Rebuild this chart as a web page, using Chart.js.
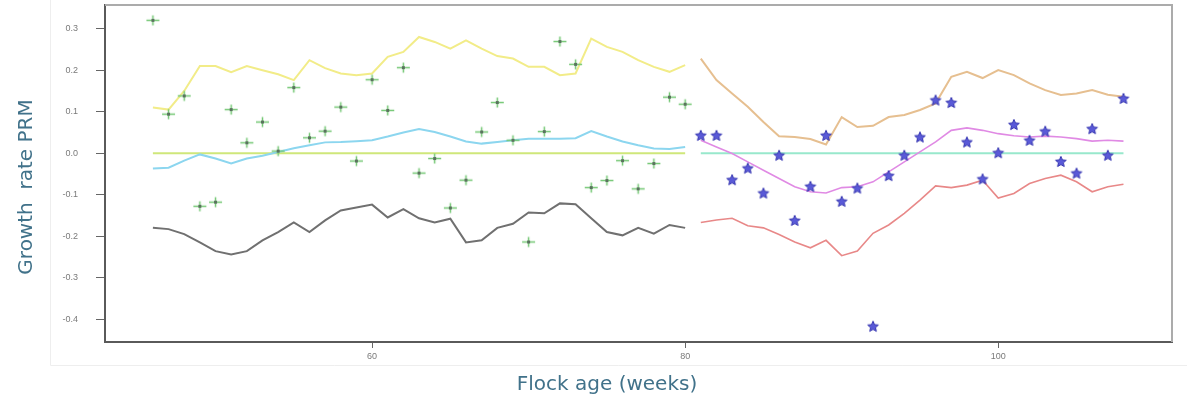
<!DOCTYPE html>
<html>
<head>
<meta charset="utf-8">
<script src="https://cdn.jsdelivr.net/npm/chart.js@4.4.1/dist/chart.umd.min.js"></script>
<style>
  html, body { margin: 0; padding: 0; background: #ffffff; }
  canvas { display: block; }
</style>
</head>
<body>
<canvas id="chart" width="1187" height="404"></canvas>
<script>
// ---- Period A: weeks 46-80 ----
const weeksA = [46,47,48,49,50,51,52,53,54,55,56,57,58,59,60,61,62,63,64,65,66,67,68,69,70,71,72,73,74,75,76,77,78,79,80];
const growthA = [0.32,0.094,0.138,-0.128,-0.118,0.105,0.025,0.075,0.005,0.158,0.037,0.053,0.111,-0.019,0.177,0.103,0.206,-0.048,-0.013,-0.132,-0.065,0.051,0.122,0.031,-0.214,0.052,0.269,0.214,-0.083,-0.066,-0.018,-0.086,-0.025,0.135,0.118];
const upperA = [0.11,0.105,0.15,0.21,0.21,0.195,0.21,0.2,0.19,0.176,0.224,0.205,0.192,0.188,0.192,0.232,0.244,0.28,0.268,0.252,0.272,0.252,0.234,0.228,0.208,0.208,0.188,0.192,0.276,0.256,0.244,0.224,0.208,0.196,0.212];
const meanA = [-0.037,-0.035,-0.018,-0.003,-0.013,-0.025,-0.013,-0.006,0.003,0.012,0.019,0.026,0.027,0.029,0.031,0.04,0.05,0.058,0.051,0.04,0.028,0.023,0.027,0.031,0.035,0.035,0.035,0.036,0.053,0.04,0.028,0.019,0.011,0.01,0.015];
const lowerA = [-0.18,-0.183,-0.195,-0.215,-0.236,-0.244,-0.236,-0.21,-0.19,-0.167,-0.19,-0.162,-0.138,-0.131,-0.124,-0.155,-0.135,-0.157,-0.167,-0.158,-0.215,-0.21,-0.18,-0.17,-0.143,-0.145,-0.121,-0.123,-0.157,-0.19,-0.198,-0.18,-0.194,-0.173,-0.18];
const refWeeksA = [46, 80];

// ---- Period B: weeks 81-108 ----
const weeksB = [81,82,83,84,85,86,87,88,89,90,91,92,93,94,95,96,97,98,99,100,101,102,103,104,105,106,107,108];
const growthB = [0.043,0.043,-0.064,-0.036,-0.096,-0.005,-0.162,-0.08,0.043,-0.116,-0.084,-0.417,-0.054,-0.005,0.039,0.128,0.122,0.027,-0.062,0.001,0.069,0.031,0.053,-0.02,-0.048,0.059,-0.005,0.132];
const upperB = [0.228,0.176,0.144,0.112,0.075,0.041,0.039,0.034,0.021,0.087,0.063,0.066,0.087,0.092,0.104,0.12,0.184,0.196,0.181,0.2,0.188,0.168,0.152,0.14,0.144,0.152,0.141,0.136];
const meanB = [0.031,0.015,-0.001,-0.021,-0.041,-0.061,-0.081,-0.093,-0.096,-0.083,-0.081,-0.069,-0.045,-0.021,0.003,0.027,0.055,0.061,0.055,0.047,0.042,0.039,0.041,0.039,0.035,0.029,0.031,0.029];
const lowerB = [-0.167,-0.161,-0.157,-0.175,-0.18,-0.196,-0.214,-0.228,-0.21,-0.247,-0.236,-0.193,-0.173,-0.145,-0.113,-0.079,-0.083,-0.077,-0.065,-0.108,-0.097,-0.073,-0.061,-0.053,-0.069,-0.093,-0.081,-0.075];
const refWeeksB = [81, 108];

const refLevel = 0;

// ---- Axes ----
const xTicks = [60, 80, 100];
const yTicks = [-0.4, -0.3, -0.2, -0.1, 0.0, 0.1, 0.2, 0.3];
const xTitle = 'Flock age (weeks)';
const yTitle = 'Growth  rate PRM';

function pts(xs, ys) { return xs.map((x, i) => ({ x: x, y: ys[i] })); }
function level(xs, v) { return xs.map(x => ({ x: x, y: v })); }

// Marker glyphs
function makePlus() {
  const c = document.createElement('canvas');
  c.width = 15; c.height = 13;
  const g = c.getContext('2d');
  g.strokeStyle = '#74c874';
  g.lineWidth = 1.5;
  g.beginPath();
  g.moveTo(1, 6.5); g.lineTo(14, 6.5);
  g.moveTo(7.5, 1.5); g.lineTo(7.5, 11.5);
  g.stroke();
  g.fillStyle = '#5a725e';
  g.fillRect(6, 5, 3, 3);
  return c;
}
function makeStar() {
  const c = document.createElement('canvas');
  c.width = 14; c.height = 13;
  const g = c.getContext('2d');
  g.beginPath();
  for (let i = 0; i < 10; i++) {
    const r = i % 2 ? 2.6 : 5.6;
    const a = -Math.PI / 2 + i * Math.PI / 5;
    g.lineTo(7 + r * Math.cos(a), 7 + r * Math.sin(a));
  }
  g.closePath();
  g.fillStyle = '#5a5ad8';
  g.fill();
  g.strokeStyle = '#3434b0';
  g.lineWidth = 1;
  g.stroke();
  return c;
}
const plusGlyph = makePlus();
const starGlyph = makeStar();

function lineSet(data, color, width, order) {
  return {
    data: data, showLine: true, borderColor: color, backgroundColor: color,
    borderWidth: width, pointRadius: 0, pointHoverRadius: 0, fill: false,
    tension: 0, order: order
  };
}

// Frame, outer panel and axis titles
const decor = {
  id: 'decor',
  beforeDraw(chart) {
    const ctx = chart.ctx;
    ctx.save();
    ctx.fillStyle = '#ffffff';
    ctx.fillRect(0, 0, chart.width, chart.height);
    ctx.strokeStyle = '#eeeeee';
    ctx.lineWidth = 1;
    ctx.beginPath();
    ctx.moveTo(50.5, 0); ctx.lineTo(50.5, 365.5); ctx.lineTo(1187, 365.5);
    ctx.stroke();
    ctx.restore();
  },
  afterDraw(chart) {
    const ctx = chart.ctx;
    const a = chart.chartArea;
    ctx.save();
    ctx.strokeStyle = '#ababab';
    ctx.lineWidth = 2;
    ctx.beginPath();
    ctx.moveTo(a.left, a.top); ctx.lineTo(a.right, a.top); ctx.lineTo(a.right, a.bottom);
    ctx.stroke();

    ctx.fillStyle = '#41728a';
    ctx.font = '20px "DejaVu Sans", Verdana, sans-serif';
    ctx.textAlign = 'center';
    ctx.textBaseline = 'middle';
    ctx.fillText(xTitle, 607, 385);
    ctx.translate(27, 187);
    ctx.rotate(-Math.PI / 2);
    ctx.fillText(yTitle, 0, 0);
    ctx.restore();
  }
};

const tickFont = { family: '"Liberation Sans", Arial, sans-serif', size: 9 };

function noPad(s) { s.paddingTop = 0; s.paddingBottom = 0; s.paddingLeft = 0; s.paddingRight = 0; }

new Chart(document.getElementById('chart'), {
  type: 'scatter',
  data: {
    datasets: [
      lineSet(level(refWeeksA, refLevel), '#cfe77a', 2, 5),
      lineSet(level(refWeeksB, refLevel), '#98e8cc', 2, 5),
      lineSet(pts(weeksA, upperA), '#f2ec88', 2, 4),
      lineSet(pts(weeksA, meanA), '#8cd6ef', 2, 4),
      lineSet(pts(weeksA, lowerA), '#707070', 2, 4),
      lineSet(pts(weeksB, upperB), '#e6bf90', 2, 4),
      lineSet(pts(weeksB, meanB), '#e08ae4', 1.6, 4),
      lineSet(pts(weeksB, lowerB), '#e88888', 1.6, 4),
      { data: pts(weeksA, growthA), pointStyle: plusGlyph, pointRadius: 6, showLine: false, order: 1 },
      { data: pts(weeksB, growthB), pointStyle: starGlyph, pointRadius: 6, showLine: false, order: 1 }
    ]
  },
  options: {
    responsive: false,
    animation: false,
    events: [],
    layout: { autoPadding: false, padding: { top: 5, right: 15, left: 0, bottom: 0 } },
    plugins: { legend: { display: false }, tooltip: { enabled: false } },
    scales: {
      x: {
        type: 'linear', position: 'bottom', min: 42.94, max: 111.1,
        afterBuildTicks: s => { s.ticks = xTicks.map(v => ({ value: v })); },
        afterFit: s => { s.height = 62; noPad(s); },
        border: { display: true, color: '#5a5a5a', width: 2 },
        grid: { drawOnChartArea: false, drawTicks: true, tickLength: 6, color: '#666666', lineWidth: 1 },
        ticks: { font: tickFont, color: '#7a7a7a', padding: 3, maxRotation: 0, callback: v => String(v) }
      },
      y: {
        type: 'linear', min: -0.455, max: 0.357,
        afterBuildTicks: s => { s.ticks = yTicks.map(v => ({ value: v })); },
        afterFit: s => { s.width = 105; noPad(s); },
        border: { display: true, color: '#5a5a5a', width: 2 },
        grid: { drawOnChartArea: false, drawTicks: true, tickLength: 9, color: '#666666', lineWidth: 1 },
        ticks: { font: tickFont, color: '#7a7a7a', padding: 18, callback: v => Number(v).toFixed(1) }
      }
    }
  },
  plugins: [decor]
});
</script>
</body>
</html>
